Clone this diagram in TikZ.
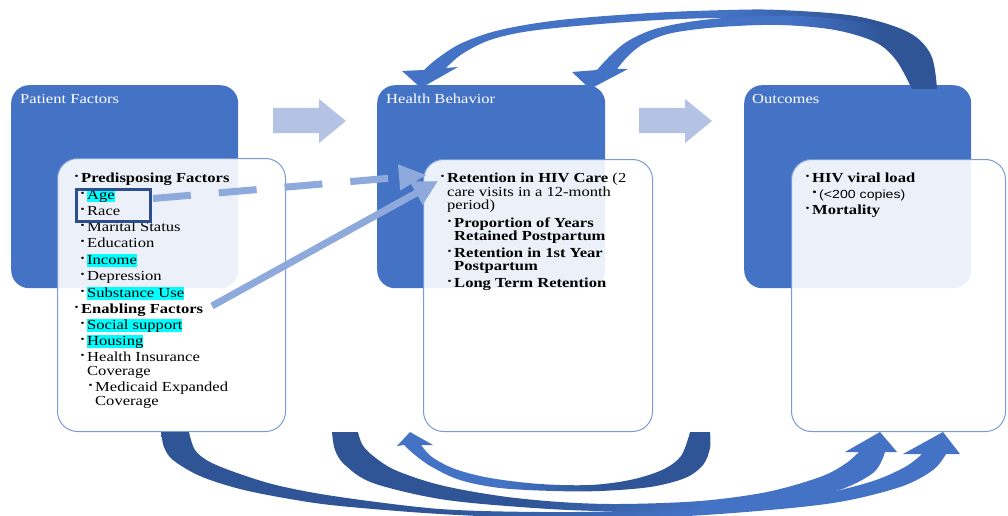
\documentclass[tikz,border=0pt]{standalone}
\usepackage{fontspec}
\setmainfont{Liberation Serif}[FakeStretch=1.2]
\newfontfamily\sansf{Liberation Sans}[FakeStretch=1.2]
\usetikzlibrary{arrows.meta}

\definecolor{mdb}{RGB}{68,114,196}
\definecolor{dkb}{RGB}{47,85,151}
\definecolor{chev}{RGB}{180,194,227}
\definecolor{ltarr}{RGB}{142,169,219}
\definecolor{wborder}{RGB}{122,154,214}
\definecolor{framec}{RGB}{44,78,140}
\definecolor{hlc}{RGB}{0,255,255}

% colour runs along the curved ribbons (dark at the tail, lighter at the head)
\pgfdeclarehorizontalshading{ltor}{100bp}{color(0bp)=(dkb); color(25bp)=(dkb); color(42bp)=(dkb); color(58bp)=(mdb); color(75bp)=(mdb); color(100bp)=(mdb)}
\pgfdeclarehorizontalshading{rtol}{100bp}{color(0bp)=(mdb); color(25bp)=(mdb); color(42bp)=(mdb); color(58bp)=(dkb); color(75bp)=(dkb); color(100bp)=(dkb)}
\pgfdeclarehorizontalshading{toparc}{100bp}{color(0bp)=(mdb); color(25bp)=(mdb); color(55bp)=(mdb); color(68bp)=(dkb); color(75bp)=(dkb); color(100bp)=(dkb)}

\newcommand\bu{\llap{\raisebox{2.2pt}{\fontsize{9.5}{9.5}\selectfont •}\hspace{2.6pt}}}
\newcommand\hl[1]{{\setlength{\fboxsep}{0pt}\colorbox{hlc}{\rule[-2.5pt]{0pt}{13pt}#1}}}

\tikzset{
  bluebox/.style={rectangle, rounded corners=18pt, fill=mdb, draw=none, anchor=north west, inner sep=0pt},
  whitebox/.style={rectangle, rounded corners=20pt, fill=white, fill opacity=0.9, draw=wborder, line width=1pt, anchor=north west, inner sep=0pt},
  txt/.style={anchor=base west, inner sep=0pt, font=\fontsize{13.8}{16}\selectfont},
  title/.style={txt, text=white},
  chevron/.style={fill=chev},
  dasharrow/.style={draw=ltarr, line width=7pt, dash pattern=on 38pt off 28pt, -{Triangle[width=24pt,length=28pt]}},
  solidarrow/.style={draw=ltarr, line width=7pt, -{Triangle[width=25pt,length=25pt]}},
  ribbon/.style={smooth, tension=0.55}
}

\begin{document}
\begin{tikzpicture}[x=1pt,y=-1pt]
\useasboundingbox (0,0) rectangle (1008,516);

% three stage boxes
\node[bluebox, minimum width=227pt, minimum height=203pt] (pf) at (11,85) {};
\node[bluebox, minimum width=228pt, minimum height=203pt] (hb) at (377,85) {};
\node[bluebox, minimum width=227pt, minimum height=203pt] (oc) at (744,85) {};

\node[title] (pft) at (20,103) {Patient Factors};
\node[title] (hbt) at (386,103) {Health Behavior};
\node[title] (oct) at (752,103) {Outcomes};

% detail panels
\node[whitebox, minimum width=228pt, minimum height=273pt] (pfw) at (57,158) {};
\node[whitebox, minimum width=229pt, minimum height=272pt] (hbw) at (423,159) {};
\node[whitebox, minimum width=214pt, minimum height=272pt] (ocw) at (791,159) {};

% block arrows between stages
\fill[chevron] (273,108) -- (319,108) -- (319,99) -- (346,121) -- (319,143) -- (319,133) -- (273,133) -- cycle;
\fill[chevron, xshift=366pt] (273,108) -- (319,108) -- (319,99) -- (346,121) -- (319,143) -- (319,133) -- (273,133) -- cycle;

% patient factors list
\node[txt] (pa1)  at (81,182) {\bu\textbf{Predisposing Factors}};
\node[txt] (pa2)  at (87,199) {\bu\hl{Age}};
\node[txt] (pa3)  at (87,215) {\bu Race};
\node[txt] (pa4)  at (87,231) {\bu Marital Status};
\node[txt] (pa5)  at (87,247) {\bu Education};
\node[txt] (pa6)  at (87,264) {\bu\hl{Income}};
\node[txt] (pa7)  at (87,280) {\bu Depression};
\node[txt] (pa8)  at (87,297) {\bu\hl{Substance Use}};
\node[txt] (pa9)  at (81,313) {\bu\textbf{Enabling Factors}};
\node[txt] (pa10) at (87,329) {\bu\hl{Social support}};
\node[txt] (pa11) at (87,345) {\bu\hl{Housing}};
\node[txt] (pa12) at (87,361) {\bu Health Insurance};
\node[txt] (pa13) at (87,375) {Coverage};
\node[txt] (pa14) at (95,391) {\bu Medicaid Expanded};
\node[txt] (pa15) at (95,405) {Coverage};

% health behaviour list
\node[txt] (hb1) at (447,182) {\bu\textbf{Retention in HIV Care} (2};
\node[txt] (hb2) at (447,196) {care visits in a 12-month};
\node[txt] (hb3) at (447,209) {period)};
\node[txt] (hb4) at (454,227) {\bu\textbf{Proportion of Years}};
\node[txt] (hb5) at (454,240) {\textbf{Retained Postpartum}};
\node[txt] (hb6) at (454,257) {\bu\textbf{Retention in 1st Year}};
\node[txt] (hb7) at (454,270) {\textbf{Postpartum}};
\node[txt] (hb8) at (454,287) {\bu\textbf{Long Term Retention}};

% outcomes list
\node[txt] (oc1) at (812,182) {\bu\textbf{HIV viral load}};
\node[txt, font=\sansf\fontsize{11.8}{14}\selectfont] (oc2) at (819,198) {\bu(<200 copies)};
\node[txt] (oc3) at (812,214) {\bu\textbf{Mortality}};

% feedback ribbons above: outcomes back to health behaviour
\shade[shading=toparc] plot[ribbon] coordinates {(937,89) (931,55) (908,32) (855,16) (780,10) (728,10) (650,13) (560,20) (500,30) (462,43) (438,58) (424,70)}
  -- (402,71) -- (421,88) -- (458,67) -- (446,68)
  -- plot[ribbon] coordinates {(446,68) (462,54) (490,40) (530,31) (600,24) (680,19) (760,18) (830,23) (875,36) (900,56) (912,89)} -- cycle;
\shade[shading=toparc] plot[ribbon] coordinates {(936,89) (929,57) (905,35) (860,22) (800,16) (740,17) (695,21) (655,29) (628,41) (611,55) (597,70)}
  -- (572,72) -- (590,89) -- (628,69) -- (617,69)
  -- plot[ribbon] coordinates {(617,69) (629,55) (645,43) (672,33) (720,27) (780,25) (835,30) (875,42) (896,60) (912,89)} -- cycle;

% ribbons below: patient factors to outcomes
\shade[shading=ltor] plot[ribbon] coordinates {(161,432) (164,447) (173,460) (200,476) (240,489) (290,499) (340,506) (440,514) (540,518) (640,518) (733,513) (833,503) (900,487) (933,470) (946,454)}
  -- (960,454) -- (943,432) -- (903,454) -- (922,454)
  -- plot[ribbon] coordinates {(922,454) (905,467) (870,482) (810,496) (720,506) (620,511) (540,512) (440,509) (340,497) (280,486) (240,474) (210,462) (195,450) (189,432)} -- cycle;
\shade[shading=ltor] plot[ribbon] coordinates {(332,432) (335,450) (345,465) (373,483) (440,499) (520,507) (600,511) (700,510) (767,503) (833,492) (873,473) (885,452)}
  -- (897,452) -- (880,432) -- (845,452) -- (859,452)
  -- plot[ribbon] coordinates {(859,452) (845,464) (820,477) (767,492) (700,501) (620,504) (560,502) (500,496) (440,485) (395,470) (372,455) (362,444) (358,432)} -- cycle;
% loop under health behaviour
\shade[shading=rtol] plot[ribbon] coordinates {(710,432) (710,448) (703,465) (685,478) (650,487) (600,491) (554,491) (500,488) (460,480) (432,467) (415,455) (404,445)}
  -- (397,446) -- (410,432) -- (433,445) -- (421,445)
  -- plot[ribbon] coordinates {(421,445) (432,457) (455,469) (490,478) (540,484) (590,485) (630,480) (662,470) (681,456) (690,432)} -- cycle;

% links from selected factors to retention
\coordinate (dashstart) at (153,198.5);
\coordinate (dashtip) at (427,175);
\coordinate (solidstart) at (212,306);
\coordinate (solidtip) at (438,181);
\draw[dasharrow] (dashstart) -- (dashtip);
\draw[solidarrow] (solidstart) -- (solidtip);

% frame round age and race
\node[draw=framec, line width=3pt, minimum width=74pt, minimum height=32pt, anchor=north west, inner sep=0pt] (agebox) at (74.5,187.5) {};
\end{tikzpicture}
\end{document}
